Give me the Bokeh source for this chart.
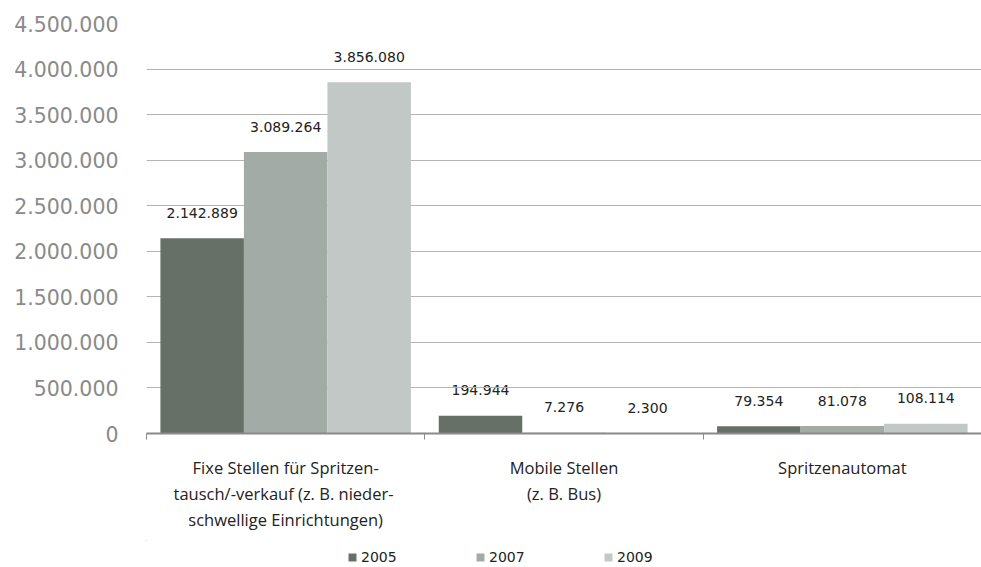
from bokeh.plotting import figure
from bokeh.layouts import column
from bokeh.models import (ColumnDataSource, FixedTicker, Range1d, Legend, LegendItem)
from bokeh.core.properties import value
from bokeh.embed import file_html
from bokeh.resources import INLINE

categories = ["Fixe Stellen für Spritzen-\ntausch/-verkauf  (z. B. nieder-\nschwellige Einrichtungen)",
              "Mobile Stellen\n(z. B. Bus)",
              "Spritzenautomat"]
years = ["2005", "2007", "2009"]
v2005 = [2142889, 194944, 79354]
v2007 = [3089264, 7276, 81078]
v2009 = [3856080, 2300, 108114]
labels2005 = ["2.142.889", "194.944", "79.354"]
labels2007 = ["3.089.264", "7.276", "81.078"]
labels2009 = ["3.856.080", "2.300", "108.114"]
y_ticks = [0, 500000, 1000000, 1500000, 2000000, 2500000, 3000000, 3500000, 4000000, 4500000]
y_tick_labels = ["0", "500.000", "1.000.000", "1.500.000", "2.000.000", "2.500.000",
                 "3.000.000", "3.500.000", "4.000.000", "4.500.000"]

colors = ["#667067", "#a3aba6", "#c2c8c5"]
offsets = [-0.3, 0.0, 0.3]
series = [v2005, v2007, v2009]
series_labels = [labels2005, labels2007, labels2009]

p = figure(width=981, height=540, output_backend="svg", toolbar_location=None,
           x_range=Range1d(0, 3), y_range=Range1d(0, 4500000),
           min_border_left=146, min_border_right=0, min_border_top=23, min_border_bottom=107)
p.outline_line_color = None
p.background_fill_color = "white"
p.border_fill_color = "white"

centers = [i + 0.5 for i in range(len(categories))]
for k in range(3):
    src = ColumnDataSource(dict(x=[c + offsets[k] for c in centers], top=series[k],
                                lab=series_labels[k]))
    p.text(x="x", y="top", text="lab", source=src, y_offset=-23, level="underlay",
           text_align="center", text_baseline="middle",
           text_font=value("DejaVu Sans"), text_font_size="14px", text_color="#222222",
           background_fill_color="white",
           padding=dict(left=8, right=8, top=1, bottom=6))
for k in range(3):
    src = ColumnDataSource(dict(x=[c + offsets[k] for c in centers], top=series[k]))
    p.vbar(x="x", top="top", width=0.3, bottom=0, source=src,
           fill_color=colors[k], line_color=None)

# y axis
p.yaxis.ticker = FixedTicker(ticks=y_ticks)
p.yaxis.major_label_overrides = {t: l for t, l in zip(y_ticks, y_tick_labels)}
p.yaxis.axis_line_color = None
p.yaxis.major_tick_line_color = None
p.yaxis.minor_tick_line_color = None
p.yaxis.major_tick_out = 0
p.yaxis.major_tick_in = 0
p.yaxis.major_label_standoff = 28
p.yaxis.major_label_text_font = "DejaVu Sans"
p.yaxis.major_label_text_font_size = "20.5px"
p.yaxis.major_label_text_color = "#8a8a8a"

p.ygrid.ticker = FixedTicker(ticks=y_ticks)
p.ygrid.grid_line_color = "#b4b4b4"
p.ygrid.grid_line_width = 1
p.xgrid.grid_line_color = None

# x axis
p.xaxis.ticker = FixedTicker(ticks=centers, minor_ticks=[0, 1, 2, 3])
p.xaxis.major_label_overrides = {c: l for c, l in zip(centers, categories)}
p.xaxis.axis_line_color = "#8a8a8a"
p.xaxis.axis_line_width = 2
p.xaxis.major_tick_line_color = None
p.xaxis.major_tick_out = 0
p.xaxis.major_tick_in = 0
p.xaxis.minor_tick_line_color = "#8a8a8a"
p.xaxis.minor_tick_out = 6
p.xaxis.minor_tick_in = 0
p.xaxis.major_label_standoff = 16
p.xaxis.major_label_text_font = "Open Sans"
p.xaxis.major_label_text_font_size = "16.5px"
p.xaxis.major_label_text_color = "#222222"
p.xaxis.major_label_text_line_height = 1.15

# legend strip (proxy bars lie far outside its visible ranges)
p2 = figure(width=981, height=27, output_backend="svg", toolbar_location=None,
            x_range=Range1d(100, 101), y_range=Range1d(-2e7, -1e7), min_border=0)
p2.axis.visible = False
p2.grid.visible = False
p2.outline_line_color = None
leg_renderers = []
for k in range(3):
    src = ColumnDataSource(dict(x=[c + offsets[k] for c in centers], top=series[k]))
    leg_renderers.append(p2.vbar(x="x", top="top", bottom=0, width=0.3, source=src,
                                 fill_color=colors[k], line_color=None))
legend = Legend(items=[LegendItem(label=years[k], renderers=[leg_renderers[k]]) for k in range(3)],
                orientation="horizontal", location=(201, 2),
                glyph_width=10, glyph_height=10, label_standoff=4, label_width=114,
                label_height=16, spacing=0, padding=0, margin=0,
                border_line_color=None, background_fill_alpha=0,
                label_text_font="DejaVu Sans", label_text_font_size="14px",
                label_text_color="#222222")
p2.add_layout(legend, "center")

layout = column(p, p2, spacing=0)
open("out.html", "w").write(file_html(layout, INLINE))
